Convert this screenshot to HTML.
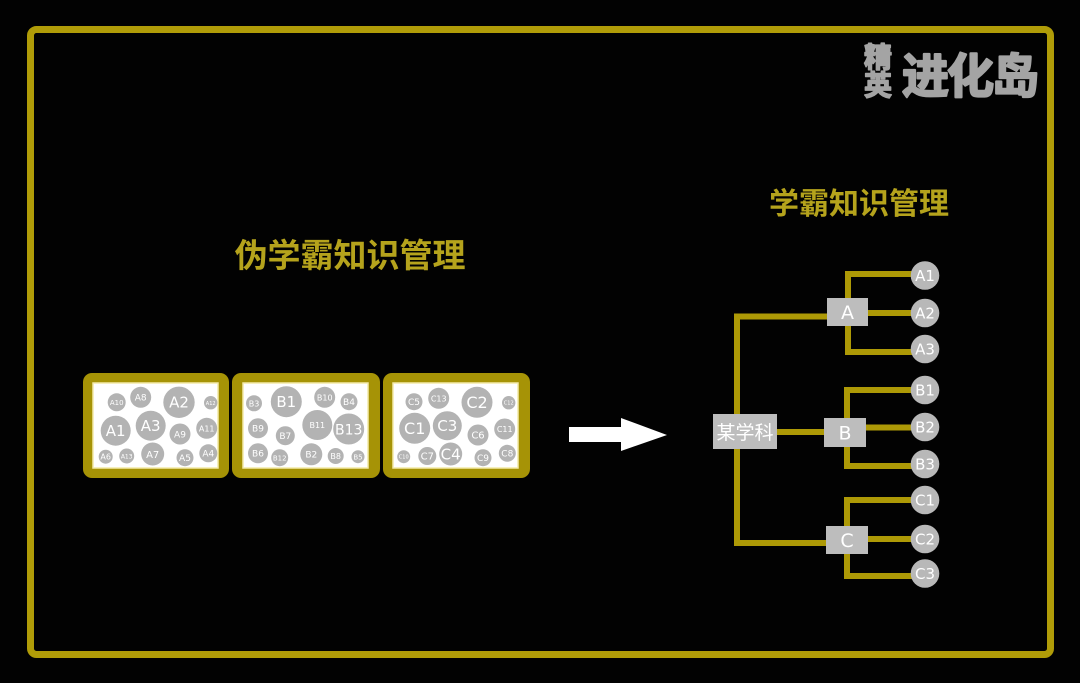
<!DOCTYPE html>
<html><head><meta charset="utf-8">
<style>
html,body{margin:0;padding:0;background:#000;}
svg{display:block;}
.cj{font-family:"Liberation Sans","Noto Sans CJK SC",sans-serif;}
</style></head>
<body>
<svg width="1080" height="683" viewBox="0 0 1080 683" xmlns="http://www.w3.org/2000/svg">
<rect x="0" y="0" width="1080" height="683" fill="#020202"/>
<!-- outer frame -->
<rect x="30.5" y="29.5" width="1020" height="625" rx="6" fill="none" stroke="#b09c08" stroke-width="7"/>

<!-- logo -->
<g fill="#a4a4a4" stroke="#a4a4a4" stroke-linejoin="round" font-weight="bold" style="font-family:'Noto Sans CJK SC',sans-serif">
<text x="864" y="67" font-size="28" stroke-width="1.5">精</text>
<text x="864" y="95" font-size="28" stroke-width="1.5">英</text>
<text x="902" y="93" font-size="47" letter-spacing="-2" stroke-width="2.2">进化岛</text>
</g>

<!-- titles -->
<text x="350" y="267" text-anchor="middle" font-size="33" font-weight="bold" fill="#b5a31c" style="font-family:'Noto Sans CJK SC',sans-serif">伪学霸知识管理</text>
<text x="859" y="214" text-anchor="middle" font-size="30" font-weight="bold" fill="#b5a31c" style="font-family:'Noto Sans CJK SC',sans-serif">学霸知识管理</text>

<!-- boxes -->
<g>
<rect x="83" y="373" width="146" height="105" rx="9" fill="#a69306"/>
<rect x="93" y="383" width="125" height="85" fill="#ffffff" stroke="#f3eaa8" stroke-width="1.5"/>
<rect x="232" y="373" width="148" height="105" rx="9" fill="#a69306"/>
<rect x="243" y="383" width="125" height="85" fill="#ffffff" stroke="#f3eaa8" stroke-width="1.5"/>
<rect x="383" y="373" width="147" height="105" rx="9" fill="#a69306"/>
<rect x="393" y="383" width="125" height="85" fill="#ffffff" stroke="#f3eaa8" stroke-width="1.5"/>
</g>

<g fill="#b3b3b3">
<!-- A -->
<circle cx="116.7" cy="402.3" r="9"/>
<circle cx="140.7" cy="397.3" r="10.5"/>
<circle cx="179" cy="402.3" r="15.7"/>
<circle cx="210.7" cy="402.7" r="6.7"/>
<circle cx="115.7" cy="430.7" r="15"/>
<circle cx="150.7" cy="425.7" r="15"/>
<circle cx="180" cy="434" r="10.5"/>
<circle cx="206.7" cy="428.3" r="10.5"/>
<circle cx="105.7" cy="456.7" r="7"/>
<circle cx="126.7" cy="456" r="7.5"/>
<circle cx="152.7" cy="454" r="11.5"/>
<circle cx="185" cy="457.7" r="8.5"/>
<circle cx="208.3" cy="453.3" r="9"/>
<!-- B -->
<circle cx="254" cy="403.3" r="8"/>
<circle cx="286.3" cy="401.7" r="15.5"/>
<circle cx="324.7" cy="397.3" r="10.5"/>
<circle cx="349" cy="401.7" r="8.5"/>
<circle cx="258" cy="428.3" r="10"/>
<circle cx="285.3" cy="435.7" r="9.5"/>
<circle cx="317.3" cy="425" r="15"/>
<circle cx="348.7" cy="429" r="15.5"/>
<circle cx="258" cy="453.3" r="10"/>
<circle cx="279.7" cy="457.7" r="8.5"/>
<circle cx="311.3" cy="454.3" r="11"/>
<circle cx="335.7" cy="456" r="8"/>
<circle cx="358" cy="456.7" r="6.5"/>
<!-- C -->
<circle cx="414" cy="401.7" r="8.5"/>
<circle cx="438.7" cy="398.3" r="10.5"/>
<circle cx="477" cy="402.3" r="15.5"/>
<circle cx="508.7" cy="402.7" r="6.7"/>
<circle cx="414.7" cy="428.3" r="15.5"/>
<circle cx="447.3" cy="425.7" r="14.5"/>
<circle cx="478" cy="435" r="10.5"/>
<circle cx="504.7" cy="429" r="10.5"/>
<circle cx="403.7" cy="456.7" r="6.5"/>
<circle cx="427.3" cy="456" r="9"/>
<circle cx="450.7" cy="454" r="11.5"/>
<circle cx="483" cy="457.7" r="8.5"/>
<circle cx="507.3" cy="453.3" r="8.5"/>
</g>

<g fill="#ffffff" text-anchor="middle" style="font-family:'DejaVu Sans','Liberation Sans',sans-serif">
<text x="116.7" y="405" font-size="7">A10</text>
<text x="140.7" y="400.5" font-size="9">A8</text>
<text x="179" y="407.5" font-size="15">A2</text>
<text x="210.7" y="405" font-size="5">A12</text>
<text x="115.7" y="436" font-size="15">A1</text>
<text x="150.7" y="431" font-size="15">A3</text>
<text x="180" y="437.5" font-size="9">A9</text>
<text x="206.7" y="431.5" font-size="8">A11</text>
<text x="105.7" y="459.5" font-size="8">A6</text>
<text x="126.7" y="458.5" font-size="6">A13</text>
<text x="152.7" y="458" font-size="10">A7</text>
<text x="185" y="461" font-size="9">A5</text>
<text x="208.3" y="456.5" font-size="9">A4</text>

<text x="254" y="406.3" font-size="8">B3</text>
<text x="286.3" y="407" font-size="15">B1</text>
<text x="324.7" y="400.5" font-size="8">B10</text>
<text x="349" y="405" font-size="9">B4</text>
<text x="258" y="431.5" font-size="9">B9</text>
<text x="285.3" y="439" font-size="9">B7</text>
<text x="317.3" y="428" font-size="8">B11</text>
<text x="348.7" y="434.5" font-size="14">B13</text>
<text x="258" y="456.5" font-size="9">B6</text>
<text x="279.7" y="460.5" font-size="7">B12</text>
<text x="311.3" y="457.5" font-size="9">B2</text>
<text x="335.7" y="459" font-size="8">B8</text>
<text x="358" y="459.5" font-size="7">B5</text>

<text x="414" y="405" font-size="9">C5</text>
<text x="438.7" y="401.5" font-size="8">C13</text>
<text x="477" y="408" font-size="16">C2</text>
<text x="508.7" y="404.5" font-size="5">C12</text>
<text x="414.7" y="434" font-size="16">C1</text>
<text x="447.3" y="431" font-size="15">C3</text>
<text x="478" y="438.5" font-size="10">C6</text>
<text x="504.7" y="432" font-size="8">C11</text>
<text x="403.7" y="458.7" font-size="5">C10</text>
<text x="427.3" y="459.5" font-size="10">C7</text>
<text x="450.7" y="459.5" font-size="15">C4</text>
<text x="483" y="461" font-size="9">C9</text>
<text x="507.3" y="456.5" font-size="9">C8</text>
</g>

<!-- arrow -->
<polygon points="569,427 621,427 621,418 667,435 621,451 621,442 569,442" fill="#ffffff"/>

<!-- tree lines -->
<g fill="none" stroke="#ad9906" stroke-width="6">
<polyline points="827,316.5 737,316.5 737,543 826,543"/>
<line x1="777" y1="432" x2="825" y2="432"/>
<polyline points="925,274 848,274 848,352 925,352"/>
<line x1="868" y1="313" x2="925" y2="313"/>
<polyline points="925,390 847,390 847,466 925,466"/>
<line x1="866" y1="427.5" x2="925" y2="427.5"/>
<polyline points="925,500 847,500 847,576 925,576"/>
<line x1="867" y1="539" x2="925" y2="539"/>
</g>

<!-- tree boxes -->
<g fill="#bdbdbd">
<rect x="713" y="414" width="64" height="35"/>
<rect x="827" y="298" width="41" height="28"/>
<rect x="824" y="418" width="42" height="29"/>
<rect x="826" y="526" width="42" height="28"/>
</g>
<g fill="#ffffff" text-anchor="middle">
<text x="745" y="439" font-size="19" style="font-family:'Noto Sans CJK SC',sans-serif">某学科</text>
<text x="847.5" y="319" font-size="19" style="font-family:'DejaVu Sans',sans-serif">A</text>
<text x="845" y="439.5" font-size="19" style="font-family:'DejaVu Sans',sans-serif">B</text>
<text x="847" y="547" font-size="19" style="font-family:'DejaVu Sans',sans-serif">C</text>
</g>

<!-- leaf circles -->
<g fill="#b8b8b8">
<circle cx="925" cy="275.5" r="14.3"/>
<circle cx="925" cy="313" r="14.3"/>
<circle cx="925" cy="349" r="14.3"/>
<circle cx="925" cy="390" r="14.3"/>
<circle cx="925" cy="427" r="14.3"/>
<circle cx="925" cy="464" r="14.3"/>
<circle cx="925" cy="500" r="14.3"/>
<circle cx="925" cy="539" r="14.3"/>
<circle cx="925" cy="573.5" r="14.3"/>
</g>
<g fill="#ffffff" text-anchor="middle" font-size="15" style="font-family:'DejaVu Sans','Liberation Sans',sans-serif">
<text x="925" y="281">A1</text>
<text x="925" y="318.5">A2</text>
<text x="925" y="354.5">A3</text>
<text x="925" y="395.5">B1</text>
<text x="925" y="432.5">B2</text>
<text x="925" y="469.5">B3</text>
<text x="925" y="505.5">C1</text>
<text x="925" y="544.5">C2</text>
<text x="925" y="579">C3</text>
</g>
</svg>
</body></html>
